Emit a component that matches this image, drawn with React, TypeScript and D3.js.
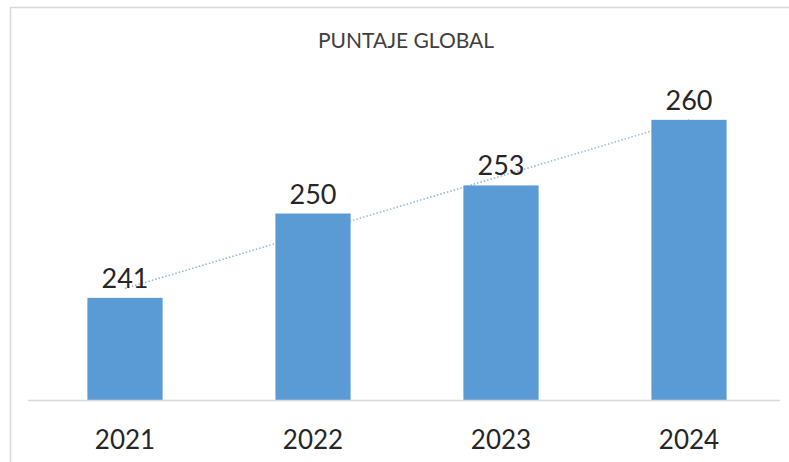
import React from "react";
import * as d3 from "d3";

const categories = ["2021", "2022", "2023", "2024"];
const values = [241, 250, 253, 260];
const title = "PUNTAJE GLOBAL";

const W = 789;
const H = 462;

export default function App() {
  const x = d3.scaleBand<string>().domain(categories).range([31, 783]).paddingInner(0.6).paddingOuter(0.3);
  const y = d3.scaleLinear().domain([230.1, 264]).range([400, 400 - 33.9 * 9.37]);

  // linear trendline (least squares)
  const idx = values.map((_, i) => i);
  const mx = d3.mean(idx) as number;
  const my = d3.mean(values) as number;
  const slope =
    d3.sum(idx.map((i) => (i - mx) * (values[i] - my))) / d3.sum(idx.map((i) => (i - mx) ** 2));
  const icpt = my - slope * mx;
  const trend = idx.map((i) => [x(categories[i])! + x.bandwidth() / 2, y(icpt + slope * i)] as [number, number]);
  const line = d3.line();

  const font = "Lato, 'Open Sans', sans-serif";

  return (
    <svg
      width={W}
      height={H}
      style={{ position: "absolute", left: 0, top: 0, background: "#fff" }}
    >
      <rect x={10.5} y={7.5} width={W + 20} height={H + 20} fill="#fff" stroke="#d9d9d9" strokeWidth={1.5} />
      <text x={406} y={48} textAnchor="middle" fontFamily={font} fontSize={21} fill="#404040">
        {title}
      </text>
      <path d={line(trend) || ""} fill="none" stroke="#8fb8dc" strokeWidth={1.5} strokeDasharray="1.5,2" />
      {categories.map((c, i) => (
        <rect
          key={c}
          x={x(c)}
          y={y(values[i])}
          width={x.bandwidth()}
          height={y(y.domain()[0]) - y(values[i])}
          fill="#5b9bd5"
        />
      ))}
      <line x1={28} x2={780} y1={400.5} y2={400.5} stroke="#d9d9d9" strokeWidth={1.5} />
      {categories.map((c, i) => (
        <text
          key={"v" + c}
          x={x(c)! + x.bandwidth() / 2}
          y={y(values[i]) - 10}
          textAnchor="middle"
          fontFamily={font}
          fontSize={27}
          fill="#262626"
        >
          {values[i]}
        </text>
      ))}
      {categories.map((c) => (
        <text
          key={"c" + c}
          x={x(c)! + x.bandwidth() / 2}
          y={449}
          textAnchor="middle"
          fontFamily={font}
          fontSize={26}
          fill="#262626"
        >
          {c}
        </text>
      ))}
    </svg>
  );
}
